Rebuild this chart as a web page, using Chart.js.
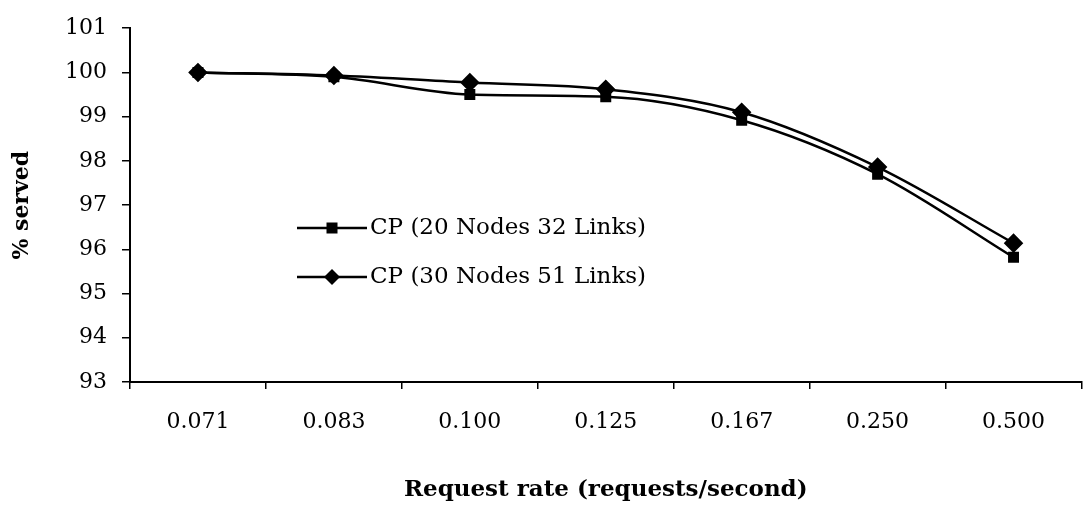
<!DOCTYPE html>
<html>
<head>
<meta charset="utf-8">
<script src="https://cdn.jsdelivr.net/npm/chart.js@4.4.1/dist/chart.umd.min.js"></script>
<style>
  html, body { margin: 0; padding: 0; background: #fff; overflow: hidden; }
  #wrap { position: relative; width: 1092px; height: 506px; }
</style>
</head>
<body>
<div id="wrap"><canvas id="c" width="1092" height="506"></canvas></div>
<script>
const categories = ["0.071", "0.083", "0.100", "0.125", "0.167", "0.250", "0.500"];
const series20Nodes = [100, 99.9, 99.5, 99.45, 98.92, 97.7, 95.82];
const series30Nodes = [100, 99.93, 99.77, 99.62, 99.1, 97.86, 96.14];
const seriesLabels = ["CP (20 Nodes 32 Links)", "CP (30 Nodes 51 Links)"];
const yTicks = [93, 94, 95, 96, 97, 98, 99, 100, 101];

const FONT = "'DejaVu Serif', 'Liberation Serif', serif";

const legendPlugin = {
  id: 'inlineLegend',
  afterDraw(chart) {
    const ctx = chart.ctx;
    const rows = [228, 277];
    chart.data.datasets.forEach((ds, i) => {
      const y = rows[i];
      ctx.save();
      ctx.strokeStyle = '#000';
      ctx.lineWidth = 2.5;
      ctx.beginPath();
      ctx.moveTo(297, y);
      ctx.lineTo(367, y);
      ctx.stroke();
      ctx.fillStyle = '#000';
      if (ds.pointStyle === 'rect') {
        ctx.fillRect(332 - 5.5, y - 5.5, 11, 11);
      } else {
        ctx.beginPath();
        ctx.moveTo(332, y - 8);
        ctx.lineTo(340, y);
        ctx.lineTo(332, y + 8);
        ctx.lineTo(324, y);
        ctx.closePath();
        ctx.fill();
      }
      ctx.font = "23px " + FONT;
      ctx.textBaseline = 'middle';
      ctx.textAlign = 'left';
      ctx.fillText(ds.label, 370, y);
      ctx.restore();
    });
  }
};

new Chart(document.getElementById('c'), {
  type: 'line',
  data: {
    labels: categories,
    datasets: [
      {
        label: seriesLabels[0],
        data: series20Nodes,
        borderColor: '#000',
        backgroundColor: '#000',
        borderWidth: 2.5,
        pointStyle: 'rect',
        pointRadius: 6,
        cubicInterpolationMode: 'monotone'
      },
      {
        label: seriesLabels[1],
        data: series30Nodes,
        borderColor: '#000',
        backgroundColor: '#000',
        borderWidth: 2.5,
        pointStyle: 'rectRot',
        pointRadius: 8,
        cubicInterpolationMode: 'monotone'
      }
    ]
  },
  options: {
    responsive: false,
    animation: false,
    layout: { padding: { top: 6, right: 3, left: 0, bottom: 0 } },
    plugins: {
      legend: { display: false },
      tooltip: { enabled: false }
    },
    scales: {
      x: {
        offset: true,
        grid: { display: true, drawOnChartArea: false, drawTicks: true, tickLength: 7, color: '#000', lineWidth: 1.5, offset: true },
        border: { display: true, color: '#000', width: 2 },
        ticks: { color: '#000', font: { family: FONT, size: 22 }, padding: 20, maxRotation: 0 },
        title: { display: true, text: 'Request rate (requests/second)', color: '#000', font: { family: FONT, size: 23, weight: 'bold' }, padding: { top: 28, bottom: 2 } },
        afterFit(scale) { scale.height = 124; }
      },
      y: {
        min: 93,
        max: 101,
        afterBuildTicks(scale) { scale.ticks = yTicks.map(v => ({ value: v })); },
        grid: { display: true, drawOnChartArea: false, drawTicks: true, tickLength: 8, color: '#000', lineWidth: 1.5 },
        border: { display: true, color: '#000', width: 2 },
        ticks: { color: '#000', font: { family: FONT, size: 22 }, padding: 15 },
        title: { display: true, text: '% served', color: '#000', font: { family: FONT, size: 22, weight: 'bold' }, padding: { top: 9, bottom: 0 } },
        afterFit(scale) { scale.width = 130; }
      }
    }
  },
  plugins: [legendPlugin]
});
</script>
</body>
</html>
